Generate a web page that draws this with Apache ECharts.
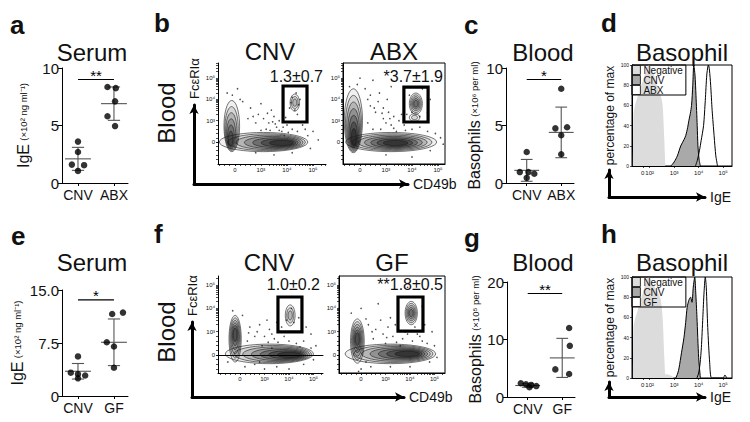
<!DOCTYPE html>
<html><head><meta charset="utf-8">
<script src="https://cdn.jsdelivr.net/npm/echarts@6/dist/echarts.min.js"></script>
<style>html,body{margin:0;padding:0;background:#fff}#c{width:750px;height:422px}</style>
</head><body><div id="c"></div>
<script>
// ---------------- DATA ----------------
const catsABX = ['CNV', 'ABX'];
const catsGF = ['CNV', 'GF'];
// panel a : serum IgE (x10^2 ng/ml)
const aCNV = [3.6, 2.7, 1.6, 1.55, 1.05];
const aCNVJit = [0, 0, -0.17, 0.17, 0];
const aABX = [8.35, 8.25, 7.1, 5.8, 4.95];
const aABXJit = [-0.18, 0.05, 0.03, -0.18, 0.03];
const aMean = [2.1, 6.9];
const aSD = [1.0, 1.45];
const aSig = '**';
// panel c : blood basophils
const cCNV = [2.7, 0.95, 0.95, 0.8, 0.45];
const cCNVJit = [0, -0.2, 0.05, 0.22, 0];
const cABX = [8.2, 4.85, 4.75, 4.15, 2.5];
const cABXJit = [0, 0.17, -0.17, 0, 0];
const cMean = [1.1, 4.4];
const cSD = [0.95, 2.2];
const cSig = '*';
// panel e : serum IgE
const eCNV = [5.6, 3.3, 3.1, 2.9, 2.5];
const eCNVJit = [0, -0.2, 0, 0.2, 0];
const eGF = [11.6, 11.8, 7.6, 7.0, 4.0];
const eGFJit = [-0.05, 0.25, -0.2, 0, 0];
const eMean = [3.5, 7.6];
const eSD = [1.1, 3.3];
const eSig = '*';
// panel g : blood basophils
const gCNV = [2.4, 2.2, 2.1, 1.9, 1.7];
const gCNVJit = [-0.2, -0.05, 0.1, 0.25, 0.05];
const gGF = [12.0, 8.9, 4.8, 4.0, 4.7];
const gGFJit = [0.2, 0.22, -0.2, 0.2, 0.4];
const gMean = [2.0, 6.8];
const gSD = [0.3, 3.4];
const gSig = '**';

// flow plots: tick labels (display units: 0, 10^3, 10^4, 10^5)
const flowTickVals = [0, 1, 2, 3];
const flowTickLabels = ['0', '10³', '10⁴', '10⁵'];
// populations: [cx, cy, rx, ry, levels, dx, dy]
const bCnvPops = [[-0.12, 0.75, 0.3, 1.2, 6, -0.05, -0.7], [1.1, 0.0, 1.7, 0.45, 7, 0.8, -0.05], [2.3, 1.85, 0.18, 0.4, 3, 0, 0]];
const bAbxPops = [[-0.25, 1.0, 0.35, 1.5, 7, 0.02, -0.9], [1.2, 0.0, 1.75, 0.45, 7, 0.2, -0.05], [2.15, 1.8, 0.25, 0.5, 5, 0, 0], [2.1, 1.15, 0.2, 0.18, 2, 0, 0]];
const fCnvPops = [[-0.2, 0.7, 0.25, 1.0, 6, 0, 0.2], [1.2, 0.05, 1.8, 0.42, 7, 0.95, -0.05], [2.05, 1.7, 0.2, 0.45, 3, 0, 0]];
const fGfPops = [[-0.15, 0.6, 0.28, 0.95, 6, 0, 0.1], [1.2, 0.05, 1.85, 0.42, 7, 0.8, 0], [2.05, 1.8, 0.25, 0.5, 5, 0, 0]];
// gates [x1, y1, x2, y2]
const bCnvGate = [[1.85, 0.94, 2.77, 2.63]];
const bAbxGate = [[1.69, 0.94, 2.62, 2.58]];
const fCnvGate = [[1.55, 0.99, 2.53, 2.49]];
const fGfGate = [[1.51, 1.03, 2.53, 2.49]];
// events outside the contours
const bCnvDots = [[0.3,1.9],[0.6,1.6],[0.9,1.3],[1.1,1.1],[1.3,0.9],[1.5,1.2],[1.6,0.7],[1.8,0.5],[1.2,0.6],[0.8,0.9],[1.4,1.5],[1.7,1.0],[2.0,0.8],[2.2,0.6],[1.9,0.3],[2.4,0.5],[2.6,0.8],[2.8,0.3],[3.0,0.5],[0.5,1.1],[-0.1,2.2],[0.1,2.5],[-0.3,2.3],[0.2,2.0],[1.0,1.8],[1.5,-0.6],[2.2,-0.5],[0.8,-0.5],[2.9,-0.3],[3.2,0.1],[2.1,1.6],[2.4,1.3],[2.5,2.0],[2.2,2.1],[2.3,1.5],[2.45,1.75],[2.15,1.85],[2.35,2.3],[1.25,1.35],[1.55,0.85],[0.7,1.2],[1.95,1.15],[2.05,0.45],[2.7,0.6],[1.0,0.55],[1.35,0.55],[1.7,0.55],[1.45,0.95],[1.85,0.7],[2.3,0.95]];
const bAbxDots = [[-0.4,2.6],[-0.1,2.7],[0.2,2.5],[0.4,2.2],[0.7,1.9],[0.9,1.6],[1.1,1.4],[1.3,1.2],[1.5,1.0],[1.2,0.8],[0.9,1.1],[0.6,1.4],[0.4,1.7],[1.7,0.8],[2.0,0.6],[2.3,0.7],[2.6,0.5],[2.9,0.4],[3.1,0.2],[1.8,1.3],[0.3,0.9],[0.8,0.6],[1.4,0.5],[1.0,-0.6],[2.0,-0.7],[2.7,-0.4],[3.2,-0.1],[2.0,1.4],[2.3,1.2],[2.6,1.4],[1.9,2.2],[2.4,2.5],[2.7,2.0],[0.0,3.0],[0.5,2.9],[1.2,2.6],[0.55,1.6],[0.85,1.35],[1.15,1.1],[1.6,1.3],[0.3,2.0],[1.0,0.9],[0.5,0.6],[1.3,0.65],[1.75,0.55],[0.75,2.3],[1.05,2.0]];
const fCnvDots = [[0.4,1.2],[0.7,1.0],[1.0,0.8],[1.2,1.1],[1.4,0.7],[1.6,1.0],[1.8,0.8],[2.0,0.6],[1.5,1.4],[1.1,1.5],[0.8,1.3],[2.3,0.5],[2.6,0.6],[2.9,0.3],[3.1,0.4],[2.2,1.0],[0.2,-0.5],[0.6,-0.4],[1.0,-0.6],[1.5,-0.5],[2.0,-0.6],[2.6,-0.4],[3.0,-0.2],[-0.5,-0.3],[0.3,0.6],[0.9,0.4],[1.3,0.3],[2.7,1.2],[2.4,1.6],[2.9,0.9],[-0.3,1.9],[0.1,1.7],[1.9,1.5],[2.1,2.0],[2.2,1.4],[1.3,0.9],[1.7,1.2],[0.6,0.8],[1.15,0.55],[1.55,0.55],[0.35,0.95],[2.45,0.35],[0.8,-0.3]];
const fGfDots = [[0.3,1.3],[0.6,1.1],[0.9,0.9],[1.1,1.2],[1.3,0.8],[1.5,1.1],[1.7,0.7],[1.9,0.9],[2.1,0.6],[2.4,0.8],[2.7,0.5],[3.0,0.4],[1.2,1.6],[0.8,1.5],[0.5,0.7],[1.0,0.5],[1.6,0.4],[2.2,1.2],[2.6,1.3],[2.9,1.0],[0.0,-0.6],[0.4,-0.5],[-0.1,-0.7],[0.2,-0.3],[1.2,-0.5],[2.0,-0.5],[2.8,-0.3],[3.1,-0.1],[-0.4,1.8],[0.0,2.0],[1.9,2.9],[2.5,2.1],[0.7,2.2],[1.4,1.3],[1.8,1.0],[2.3,0.9],[0.45,1.0],[1.05,0.75],[1.45,0.55],[0.2,1.55],[2.5,0.6]];

// histograms: x in display units (log decades; '0' drawn at 1.72)
const histTickVals = [1.72, 2, 3, 4, 5];
const histTickLabels = ['0', '10²', '10³', '10⁴', '10⁵'];
const dNegX = [1.32, 1.34, 1.4, 1.5, 1.6, 1.72, 1.85, 1.95, 2.05, 2.15, 2.25, 2.35, 2.45, 2.53, 2.6, 2.64];
const dNegY = [0, 50, 60, 68, 76, 84, 94, 100, 98, 92, 84, 76, 70, 60, 25, 0];
const dCnvX = [2.87, 3.0, 3.13, 3.27, 3.4, 3.47, 3.55, 3.6, 3.66, 3.71, 3.76, 3.8, 3.85, 3.89, 3.94, 3.97, 4.02, 4.07];
const dCnvY = [0, 4, 10, 20, 26, 30, 38, 45, 52, 60, 80, 100, 90, 70, 40, 20, 6, 0];
const dAbxX = [3.87, 3.95, 4.03, 4.1, 4.2, 4.27, 4.33, 4.38, 4.4, 4.44, 4.49, 4.55, 4.63, 4.7, 4.77];
const dAbxY = [0, 6, 15, 25, 40, 65, 90, 99, 100, 95, 80, 55, 30, 10, 0];
const hNegX = [1.32, 1.34, 1.4, 1.5, 1.6, 1.72, 1.85, 1.95, 2.05, 2.15, 2.25, 2.35, 2.45, 2.53, 2.6, 2.65, 2.72, 2.8, 2.9, 3.0];
const hNegY = [0, 50, 58, 66, 75, 84, 95, 100, 97, 92, 88, 84, 78, 60, 20, 3, 4, 3, 2, 0];
const hCnvX = [3.07, 3.15, 3.2, 3.3, 3.4, 3.47, 3.53, 3.6, 3.67, 3.7, 3.73, 3.78, 3.84, 3.88, 3.93, 4.0, 4.07];
const hCnvY = [0, 5, 10, 25, 40, 55, 70, 77, 80, 78, 75, 90, 100, 85, 60, 20, 0];
const hGfX = [3.93, 4.0, 4.06, 4.11, 4.17, 4.22, 4.27, 4.31, 4.37, 4.45, 4.53, 4.8, 5.0, 5.07, 5.14];
const hGfY = [0, 5, 15, 30, 60, 85, 100, 90, 50, 15, 0, 0, 0, 3, 0];

// ---------------- HELPERS ----------------
const FONT = '"Liberation Sans", Arial, Helvetica, sans-serif';
const zip = (xs, ys) => xs.map((x, i) => [x, ys[i]]);
const pts = (vals, jit, c) => vals.map((v, i) => [c + jit[i], v]);

function meanSdItem(params, api) {
  const x = api.value(0), m = api.value(1), s = api.value(2);
  const P = (a, b) => api.coord([a, b]);
  const seg = (p, q) => ({ type: 'line', shape: { x1: p[0], y1: p[1], x2: q[0], y2: q[1] }, style: { stroke: '#555', lineWidth: 1.1 } });
  return { type: 'group', children: [
    seg(P(x - 0.36, m), P(x + 0.36, m)),
    seg(P(x, m - s), P(x, m + s)),
    seg(P(x - 0.17, m + s), P(x + 0.17, m + s)),
    seg(P(x - 0.17, m - s), P(x + 0.17, m - s))
  ] };
}
function sigItem(stars) {
  return function (params, api) {
    const p = api.coord([api.value(0), api.value(2)]);
    const q = api.coord([api.value(1), api.value(2)]);
    return { type: 'group', children: [
      { type: 'line', shape: { x1: p[0], y1: p[1], x2: q[0], y2: q[1] }, style: { stroke: '#000', lineWidth: 1.2 } },
      { type: 'text', x: (p[0] + q[0]) / 2, y: p[1] + 3, style: { text: stars, textAlign: 'center', textVerticalAlign: 'bottom', font: '15px ' + FONT, fill: '#000' } }
    ] };
  };
}
function contourItem(params, api) {
  const cx = api.value(0), cy = api.value(1), rx = api.value(2), ry = api.value(3), n = api.value(4), dx = api.value(5), dy = api.value(6);
  const children = [];
  for (let k = 0; k < n; k++) {
    const t = k / n, s = 1 - 0.85 * t;
    const ccx = cx + dx * t, ccy = cy + dy * t;
    const poly = [];
    for (let i = 0; i < 40; i++) {
      const th = i / 40 * 2 * Math.PI;
      poly.push(api.coord([ccx + rx * s * Math.cos(th), ccy + ry * s * Math.sin(th)]));
    }
    children.push({ type: 'polygon', shape: { points: poly }, style: { fill: 'rgba(0,0,0,' + (0.06 + 0.045 * k) + ')', stroke: '#1a1a1a', lineWidth: 0.6 } });
  }
  return { type: 'group', children };
}
function gateItem(params, api) {
  const p = api.coord([api.value(0), api.value(3)]);
  const q = api.coord([api.value(2), api.value(1)]);
  return { type: 'rect', shape: { x: p[0], y: p[1], width: q[0] - p[0], height: q[1] - p[1] }, style: { fill: 'none', stroke: '#000', lineWidth: 3.2 } };
}

// ---------------- GRIDS & AXES ----------------
const B = { show: true, borderColor: '#000', borderWidth: 1, backgroundColor: 'transparent' };
const grids = [
  { left: 62, top: 68, width: 66, height: 115 },   //0 a
  { left: 506, top: 68, width: 68, height: 115 },  //1 c
  { left: 62, top: 290, width: 66, height: 106 },  //2 e
  { left: 507, top: 282, width: 68, height: 115 }, //3 g
  { left: 218, top: 63, width: 108, height: 101 }, //4 b CNV
  Object.assign({ left: 343, top: 63, width: 102, height: 101 }, B), //5 b ABX
  { left: 218, top: 276, width: 105, height: 97 }, //6 f CNV
  Object.assign({ left: 339, top: 276, width: 106, height: 97 }, B), //7 f GF
  { left: 194, top: 105, width: 214, height: 79 }, //8 b arrows
  { left: 192, top: 322, width: 212, height: 75 }, //9 f arrows
  Object.assign({ left: 632, top: 65, width: 100, height: 101 }, B), //10 d
  Object.assign({ left: 632, top: 277, width: 100, height: 101 }, B), //11 h
  { left: 609, top: 170, width: 96, height: 27 },  //12 d arrows
  { left: 609, top: 382, width: 96, height: 15 }   //13 h arrows
];
const blackLine = { show: true, onZero: false, lineStyle: { color: '#000', width: 1 } };
function scatterX(i, cats, min, max) {
  return { gridIndex: i, type: 'value', min, max, axisLine: blackLine, splitLine: { show: false },
    axisTick: { show: true, length: 3, customValues: [1, 2], lineStyle: { color: '#000' } },
    axisLabel: { customValues: [1, 2], formatter: v => cats[Math.round(v) - 1], fontSize: 14, fontFamily: FONT, color: '#111', margin: 5 } };
}
function scatterY(i, max, interval, name, gap, fmt) {
  return { gridIndex: i, type: 'value', min: 0, max, interval, axisLine: blackLine, splitLine: { show: false },
    axisTick: { show: true, length: 4, lineStyle: { color: '#000' } },
    axisLabel: { fontSize: 15, fontFamily: FONT, color: '#111', margin: 3, formatter: fmt },
    name, nameLocation: 'middle', nameGap: gap,
    nameTextStyle: { fontFamily: FONT, color: '#111', rich: { b: { fontSize: 16, fontFamily: FONT }, s: { fontSize: 9.5, fontFamily: FONT } } } };
}
const minorTicks = [];
for (let d = 1; d < 3.5; d++) for (let k = 2; k <= 9; k++) minorTicks.push(d + Math.log10(k));
for (let k = -0.8; k < 1; k += 0.2) minorTicks.push(+k.toFixed(2));
function flowAxis(i, min, max) {
  return { gridIndex: i, type: 'value', min, max, axisLine: blackLine, splitLine: { show: false },
    axisTick: { show: true, length: 2, customValues: flowTickVals.concat(minorTicks.filter(v => v > min && v < max)), lineStyle: { color: '#000', width: 0.7 } },
    axisLabel: { customValues: flowTickVals, formatter: v => flowTickLabels[Math.round(v)], fontSize: 6, fontFamily: FONT, color: '#111', margin: 3 } };
}
const arrowLine = { show: true, onZero: false, symbol: ['none', 'arrow'], symbolSize: [7, 9], lineStyle: { color: '#000', width: 3 } };
function arrowX(i, name) {
  return { gridIndex: i, type: 'value', min: 0, max: 1, axisLine: arrowLine, axisTick: { show: false }, axisLabel: { show: false }, splitLine: { show: false },
    name, nameLocation: 'end', nameGap: 5, nameTextStyle: { fontSize: 14, fontFamily: FONT, color: '#111', verticalAlign: 'middle', padding: [0, 0, 4, 0] } };
}
function arrowY(i, name) {
  return { gridIndex: i, type: 'value', min: 0, max: 1, axisLine: arrowLine, axisTick: { show: false }, axisLabel: { show: false }, splitLine: { show: false },
    name, nameLocation: 'end', nameRotate: 90, nameGap: 6, nameTextStyle: { fontSize: 13, fontFamily: FONT, color: '#111' } };
}
function histX(i) {
  return { gridIndex: i, type: 'value', min: 1.28, max: 5.36, axisLine: blackLine, splitLine: { show: false },
    axisTick: { show: true, length: 2, customValues: histTickVals, lineStyle: { color: '#000', width: 0.7 } },
    axisLabel: { customValues: histTickVals, formatter: v => histTickLabels[histTickVals.indexOf(v)], fontSize: 6, fontFamily: FONT, color: '#111', margin: 4 } };
}
function histY(i) {
  return { gridIndex: i, type: 'value', min: 0, max: 100, interval: 20, axisLine: blackLine, splitLine: { show: false },
    axisTick: { show: true, length: 2, lineStyle: { color: '#000', width: 0.7 } },
    axisLabel: { fontSize: 5, fontFamily: FONT, color: '#111', margin: 3 },
    name: 'percentage of max', nameLocation: 'middle', nameGap: 16, nameTextStyle: { fontSize: 12, fontFamily: FONT, color: '#111' } };
}
const xAxes = [
  scatterX(0, catsABX, 0.556, 2.39), scatterX(1, catsABX, 0.4, 2.37), scatterX(2, catsGF, 0.556, 2.39), scatterX(3, catsGF, 0.4, 2.37),
  flowAxis(4, -0.65, 3.5), flowAxis(5, -0.65, 3.27), flowAxis(6, -0.9, 3.39), flowAxis(7, -0.9, 3.43),
  arrowX(8, 'CD49b'), arrowX(9, 'CD49b'), histX(10), histX(11), arrowX(12, 'IgE'), arrowX(13, 'IgE')
];
const yAxes = [
  scatterY(0, 10, 5, '{b|IgE} {s|(×10² ng ml⁻¹)}', 31),
  scatterY(1, 10, 5, '{b|Basophils} {s|(×10⁶ per ml)}', 23),
  scatterY(2, 15, 7.5, '{b|IgE} {s|(×10² ng ml⁻¹)}', 31, v => v === 0 ? '0' : v.toFixed(1)),
  scatterY(3, 20, 10, '{b|Basophils} {s|(×10⁵ per ml)}', 23),
  flowAxis(4, -1.03, 3.71), flowAxis(5, -1.03, 3.71), flowAxis(6, -0.77, 3.39), flowAxis(7, -0.77, 3.39),
  arrowY(8, 'FcεRIα'), arrowY(9, 'FcεRIα'), histY(10), histY(11), arrowY(12, ''), arrowY(13, '')
];
// top border for f CNV
xAxes.push({ gridIndex: 6, type: 'value', position: 'top', min: 0, max: 1, axisLine: { show: true, lineStyle: { color: '#000', width: 1 } }, axisTick: { show: false }, axisLabel: { show: false }, splitLine: { show: false } });

// ---------------- SERIES ----------------
const series = [];
function scatterPanel(i, v1, j1, v2, j2, mean, sd, sig, sigY) {
  series.push({ type: 'scatter', name: 'pts' + i, xAxisIndex: i, yAxisIndex: i, symbolSize: 6.5, itemStyle: { color: '#000' }, data: pts(v1, j1, 1).concat(pts(v2, j2, 2)), z: 3 });
  series.push({ type: 'custom', name: 'msd' + i, xAxisIndex: i, yAxisIndex: i, renderItem: meanSdItem, data: [[1, mean[0], sd[0]], [2, mean[1], sd[1]]], z: 2 });
  series.push({ type: 'custom', name: 'sig' + i, xAxisIndex: i, yAxisIndex: i, renderItem: sigItem(sig), data: [[1, 2, sigY]], clip: false });
}
scatterPanel(0, aCNV, aCNVJit, aABX, aABXJit, aMean, aSD, aSig, 9.0);
scatterPanel(1, cCNV, cCNVJit, cABX, cABXJit, cMean, cSD, cSig, 9.0);
scatterPanel(2, eCNV, eCNVJit, eGF, eGFJit, eMean, eSD, eSig, 13.6);
scatterPanel(3, gCNV, gCNVJit, gGF, gGFJit, gMean, gSD, gSig, 18.0);

function flowPanel(i, pops, dots, gate) {
  series.push({ type: 'scatter', name: 'dots' + i, xAxisIndex: i, yAxisIndex: i, symbolSize: 1.6, itemStyle: { color: '#222' }, data: dots, z: 2, silent: true });
  series.push({ type: 'custom', name: 'pop' + i, xAxisIndex: i, yAxisIndex: i, renderItem: contourItem, data: pops, clip: true, z: 3, silent: true });
  series.push({ type: 'custom', name: 'gate' + i, xAxisIndex: i, yAxisIndex: i, renderItem: gateItem, data: gate, z: 4, silent: true });
}
flowPanel(4, bCnvPops, bCnvDots, bCnvGate);
flowPanel(5, bAbxPops, bAbxDots, bAbxGate);
flowPanel(6, fCnvPops, fCnvDots, fCnvGate);
flowPanel(7, fGfPops, fGfDots, fGfGate);

function histSeries(i, name, xs, ys, fill, stroke) {
  series.push({ type: 'line', name, xAxisIndex: i, yAxisIndex: i, data: zip(xs, ys), symbol: 'none', smooth: 0.25,
    lineStyle: { color: stroke || '#000', width: stroke ? 0 : 1 }, itemStyle: { color: fill }, areaStyle: { color: fill, opacity: 1 }, z: 2, silent: true });
}
histSeries(10, 'Negative', dNegX, dNegY, '#dcdcdc', 'none');
histSeries(10, 'CNV', dCnvX, dCnvY, '#a9a9a9');
histSeries(10, 'ABX', dAbxX, dAbxY, 'rgba(255,255,255,0)');
histSeries(11, 'Negative', hNegX, hNegY, '#dcdcdc', 'none');
histSeries(11, 'CNV', hCnvX, hCnvY, '#a9a9a9');
histSeries(11, 'GF', hGfX, hGfY, 'rgba(255,255,255,0)');

function legendAt(top, third) {
  return { left: 632, top, orient: 'vertical', itemWidth: 8, itemHeight: 9, itemGap: 0, padding: [0, 3, 0, 0], icon: 'rect',
    borderColor: '#000', borderWidth: 1, selectedMode: false,
    textStyle: { fontSize: 10, fontFamily: FONT, color: '#111', padding: [0, 0, 0, -2] },
    data: [
      { name: 'Negative', itemStyle: { color: '#dcdcdc', borderColor: '#000', borderWidth: 0.8 } },
      { name: 'CNV', itemStyle: { color: '#a9a9a9', borderColor: '#000', borderWidth: 0.8 } },
      { name: third, itemStyle: { color: '#fff', borderColor: '#000', borderWidth: 0.8 } }
    ] };
}

// ---------------- TEXT ----------------
const T = (text, x, y, size, opts) => Object.assign({ type: 'text', x, y, silent: true,
  style: Object.assign({ text, font: (opts && opts.bold ? 'bold ' : '') + size + 'px ' + FONT, fill: '#111', textAlign: (opts && opts.align) || 'center', textVerticalAlign: 'middle' }) },
  opts && opts.rot ? { rotation: opts.rot } : {});
const graphic = [
  T('a', 10, 25, 26, { bold: true, align: 'left' }), T('b', 154, 23, 26, { bold: true, align: 'left' }),
  T('c', 464, 25, 26, { bold: true, align: 'left' }), T('d', 601, 23, 26, { bold: true, align: 'left' }),
  T('e', 11, 236, 26, { bold: true, align: 'left' }), T('f', 154, 234, 26, { bold: true, align: 'left' }),
  T('g', 464, 238, 26, { bold: true, align: 'left' }), T('h', 601, 234, 26, { bold: true, align: 'left' }),
  T('Serum', 92, 52, 24), T('CNV', 270, 51, 24), T('ABX', 394, 51, 24), T('Blood', 543, 52, 24), T('Basophil', 682, 52, 24),
  T('Serum', 92, 262, 24), T('CNV', 269, 262, 24), T('GF', 392, 262, 24), T('Blood', 543, 262, 24), T('Basophil', 682, 262, 24),
  T('Blood', 166, 113, 24, { rot: Math.PI / 2 }), T('Blood', 166, 332, 24, { rot: Math.PI / 2 }),
  T('1.3±0.7', 323, 76, 16, { align: 'right' }), T('*3.7±1.9', 443, 76, 16, { align: 'right' }),
  T('1.0±0.2', 320, 284, 16, { align: 'right' }), T('**1.8±0.5', 443, 284, 16, { align: 'right' })
];

const chart = echarts.init(document.getElementById('c'), null, { renderer: 'svg', width: 750, height: 422 });
chart.setOption({
  animation: false,
  backgroundColor: '#fff',
  textStyle: { fontFamily: FONT },
  grid: grids, xAxis: xAxes, yAxis: yAxes, series,
  legend: [legendAt(65, 'ABX'), legendAt(277, 'GF')],
  graphic
});
</script></body></html>
